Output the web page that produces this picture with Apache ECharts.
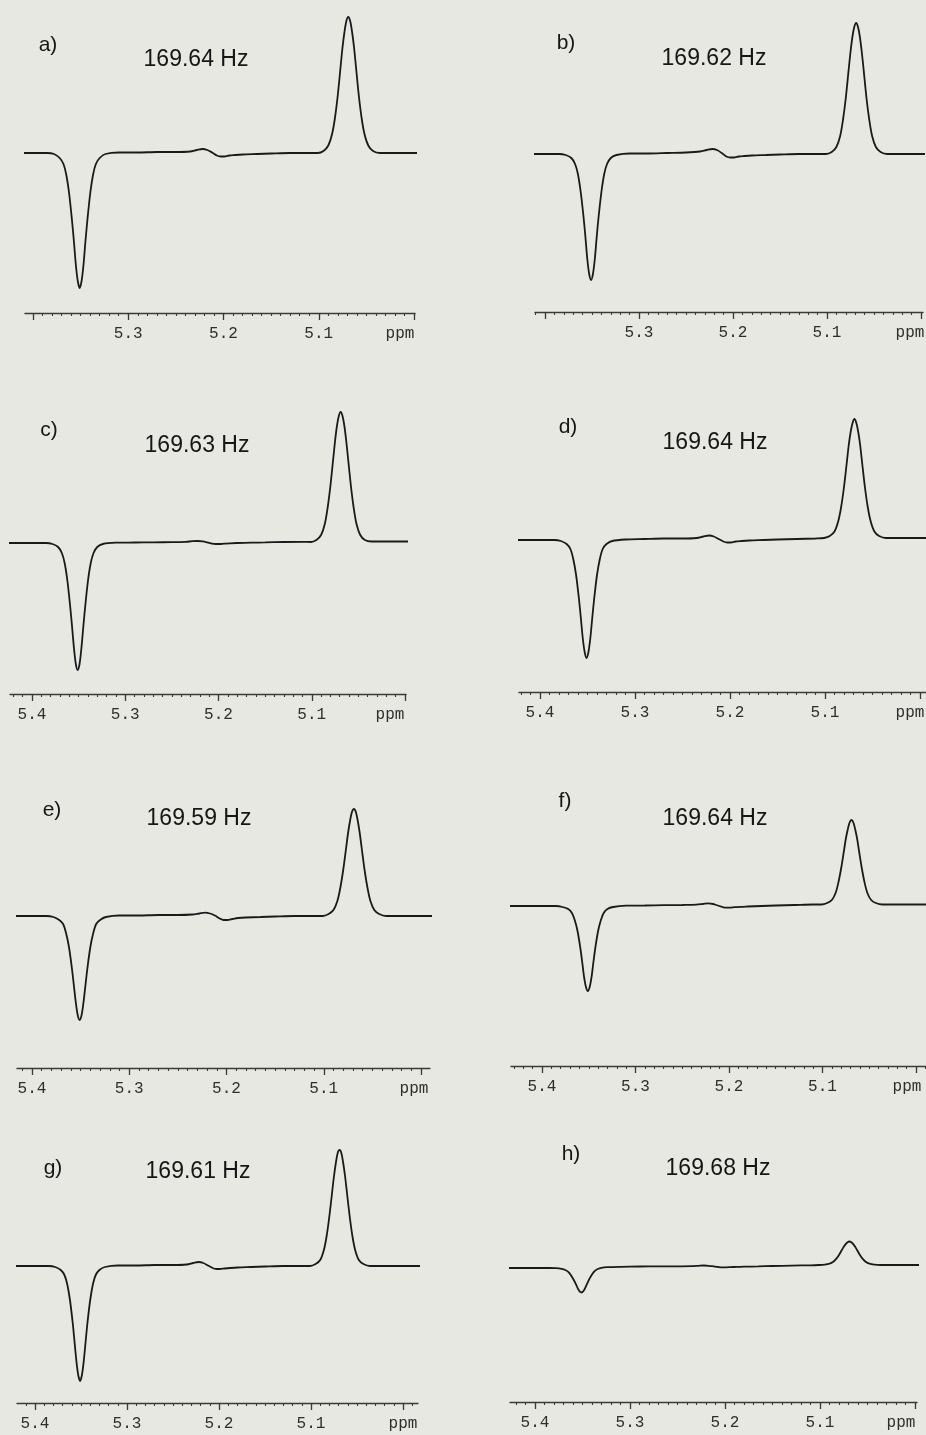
<!DOCTYPE html>
<html>
<head>
<meta charset="utf-8">
<script src="https://cdn.jsdelivr.net/npm/echarts@6/dist/echarts.min.js"></script>
<style>
html,body{margin:0;padding:0;background:#e7e8e2;}
#chart{width:926px;height:1435px;}
</style>
</head>
<body>
<div id="chart"></div>
<script>
// Shared chemical-shift grid (ppm), descending
const PPM = [5.44, 5.41, 5.395, 5.385,
  5.378, 5.372, 5.368, 5.365, 5.362, 5.359, 5.357, 5.355, 5.353, 5.351, 5.349, 5.347, 5.345, 5.343, 5.340, 5.337, 5.334, 5.330, 5.324,
  5.31, 5.29, 5.27, 5.25, 5.235, 5.228, 5.222, 5.217, 5.212, 5.207, 5.203, 5.199, 5.194, 5.188, 5.18, 5.165, 5.15, 5.13, 5.11,
  5.101, 5.095, 5.090, 5.086, 5.083, 5.080, 5.077, 5.075, 5.073, 5.071, 5.069, 5.067, 5.065, 5.063, 5.061, 5.058, 5.055, 5.052, 5.048, 5.043, 5.036,
  5.02, 5.00, 4.98];

// Intensities (arbitrary units)
const SPEC_A = [0,0,0,0,
  -1,-5,-11,-22,-41,-68,-89,-112,-128,-135,-128,-112,-89,-68,-41,-22,-11,-5,-1,
  0.5,0.5,1,1,1.5,3,4,3,0.5,-2.5,-3.5,-3.5,-2.5,-2,-1.5,-1,-0.5,0,0,
  0,2,7.5,19,35,58,87,106,121,132,136,132,121,106,87,58,35,19,7.5,2,0,
  0,0,0];
const SPEC_B = [0,0,0,0,
  -1,-4,-10,-20,-38,-63,-83,-105,-120,-126,-120,-105,-83,-63,-38,-20,-10,-4,-1,
  0.5,0.5,1,1.5,2.5,4,5,4,1,-2.5,-3.5,-3.5,-2.5,-2,-1.5,-1,-0.5,0,0,
  0,2,7,18,34,56,84,102,117,127,131,127,117,102,84,56,34,18,7,2,0,
  0,0,0];
const SPEC_C = [0,0,0,0,
  -1,-4,-10,-20,-38,-64,-84,-105,-121,-127,-121,-105,-84,-64,-38,-20,-10,-4,-1,
  0.3,0.5,0.7,0.8,1.2,1.8,2,1.6,0.6,-0.6,-1,-1,-0.6,-0.3,0,0.3,0.6,1,1.2,
  1,3,8,19,35,57,84,102,117,127,131,127,117,102,84,57,35,19,8,3,1.5,
  1.5,1.5,1.5];
const SPEC_D = [0,0,0,0,
  -1,-4,-9,-19,-35,-59,-78,-98,-112,-118,-112,-98,-78,-59,-35,-19,-9,-4,-1,
  0.5,1,1.5,1.5,2,3.5,4.5,3.5,1,-1.5,-2.5,-2.5,-1.5,-1,-0.5,0,0.5,1,1.5,
  2,4,8.5,19,33,53,78,95,108,117,121,117,108,95,78,53,33,19,8.5,4,2,
  2,2,2];
const SPEC_E = [0,0,0,0,
  -1,-4,-8,-17,-31,-52,-69,-86,-99,-104,-99,-86,-69,-52,-31,-17,-8,-4,-1,
  0.5,0.5,1,1,1.5,2.5,3.3,2.5,0.5,-2.5,-4,-4,-3,-2,-1.5,-1,-0.5,0,0,
  0,2,6,15,28,46,68,83,95,104,107,104,95,83,68,46,28,15,6,2,0,
  0,0,0];
const SPEC_F = [0,0,0,0,
  -1,-3,-7,-14,-25,-42,-56,-71,-81,-85,-81,-71,-56,-42,-25,-14,-7,-3,-1,
  0.3,0.5,0.8,1,1.3,2,2.7,2,0.5,-1,-1.7,-1.7,-1.2,-0.8,-0.5,0,0.5,1,1.5,
  1.5,3,6,13,23.5,38,55.5,67.5,76.5,83.5,86,83.5,76.5,67.5,55.5,38,23.5,13,6,3,1.5,
  1.5,1.5,1.5];
const SPEC_G = [0,0,0,0,
  -1,-4,-9,-18,-34,-57,-76,-95,-109,-115,-109,-95,-76,-57,-34,-18,-9,-4,-1,
  0.5,0.5,1,1,1.5,3,4,3,0.5,-2,-3,-3,-2.5,-2,-1.5,-1,-0.5,0,0,
  0,2,6,16,30,50,74,90,103,113,116,113,103,90,74,50,30,16,6,2,0,
  0,0,0];
const SPEC_H = [0,0,0,0,
  -0.2,-0.9,-2,-3.9,-7.4,-12.3,-16.2,-20.3,-23.3,-24.5,-23,-19.6,-15.4,-11.3,-6.4,-2.9,-1,0.2,0.8,
  1.2,1.5,1.6,1.7,1.8,2.2,2.5,2.2,1.6,1,0.7,0.7,0.9,1.1,1.3,1.6,2,2.4,2.7,
  3,3.4,4.3,6.3,9.1,13.1,18,21.3,23.9,25.8,26.5,25.8,23.9,21.3,18,13.1,9.1,6.3,4.3,3.4,3,
  3,3,3];

const PANEL_LETTERS = ['a)','b)','c)','d)','e)','f)','g)','h)'];
const PANEL_HZ = ['169.64 Hz','169.62 Hz','169.63 Hz','169.64 Hz','169.59 Hz','169.64 Hz','169.61 Hz','169.68 Hz'];
const TICK_VALUES = [5.4, 5.3, 5.2, 5.1, 5.0];
const TICK_LABELS = ['5.4', '5.3', '5.2', '5.1', 'ppm'];

const SPECS = [SPEC_A, SPEC_B, SPEC_C, SPEC_D, SPEC_E, SPEC_F, SPEC_G, SPEC_H];

// Layout (pixels): axis extents, tick anchors, baseline, label positions
const LAYOUT = [
  {left:25,  right:415, x54:33,  x50:414, axisY:313,  base:153,  lx:48,  ly:45,   hx:196, hy:60,   ppmShift:14, show54:false},
  {left:535, right:923, x54:545, x50:921, axisY:312,  base:154,  lx:566, ly:43,   hx:714, hy:59,   ppmShift:11, show54:false},
  {left:10,  right:406, x54:32,  x50:405, axisY:694,  base:543,  lx:49,  ly:430,  hx:197, hy:446,  ppmShift:15, show54:true},
  {left:519, right:935, x54:540, x50:920, axisY:692,  base:540,  lx:568, ly:427,  hx:715, hy:443,  ppmShift:10, show54:true},
  {left:17,  right:430, x54:32,  x50:421, axisY:1068, base:916,  lx:52,  ly:810,  hx:199, hy:819,  ppmShift:7,  show54:true},
  {left:511, right:935, x54:542, x50:916, axisY:1066, base:906,  lx:565, ly:801,  hx:715, hy:819,  ppmShift:9,  show54:true},
  {left:17,  right:418, x54:35,  x50:403, axisY:1403, base:1266, lx:53,  ly:1168, hx:198, hy:1172, ppmShift:0,  show54:true},
  {left:510, right:917, x54:535, x50:915, axisY:1402, base:1268, lx:571, ly:1154, hx:718, hy:1169, ppmShift:14, show54:true}
];

const AXIS_COLOR = '#3a3a3a';
const grids = [], xAxes = [], yAxes = [], series = [], graphics = [];

LAYOUT.forEach((L, i) => {
  const ppx = (L.x50 - L.x54) / 0.4;
  const max = 5.4 + (L.x54 - L.left) / ppx;
  const min = 5.0 - (L.right - L.x50) / ppx;
  const top = L.base - 150;
  grids.push({left: L.left, top: top, width: L.right - L.left, height: L.axisY - top,
              containLabel: false, outerBoundsMode: 'none'});
  const minor = [];
  for (let k = 495; k <= 545; k++) { const v = k / 100; if (v >= min - 1e-9 && v <= max + 1e-9) minor.push(v); }
  const labelVals = TICK_VALUES.filter(v => L.show54 || Math.abs(v - 5.4) > 1e-6);
  xAxes.push({
    type: 'value', gridIndex: i, position: 'bottom', inverse: true, min: min, max: max,
    axisLine: {show: true, onZero: false, lineStyle: {color: AXIS_COLOR, width: 1.4}},
    axisTick: {show: true, inside: false, length: 7, customValues: TICK_VALUES, lineStyle: {color: AXIS_COLOR, width: 1.3}},
    axisLabel: {
      show: true, customValues: labelVals, margin: 13, hideOverlap: false,
      fontFamily: '"Liberation Mono", "DejaVu Sans Mono", monospace', fontSize: 16, color: '#2e2e2e',
      formatter: function (v) {
        const k = TICK_VALUES.findIndex(t => Math.abs(t - v) < 1e-6);
        const s = k >= 0 ? TICK_LABELS[k] : '';
        return s === 'ppm' ? '{p|ppm}' : s;
      },
      rich: {p: {fontFamily: '"Liberation Mono", "DejaVu Sans Mono", monospace', fontSize: 16, color: '#2e2e2e',
                 padding: [0, 2 * L.ppmShift, 0, 0]}}
    },
    splitLine: {show: false}
  });
  xAxes.push({
    type: 'value', gridIndex: i, position: 'bottom', inverse: true, min: min, max: max,
    axisLine: {show: false, onZero: false},
    axisTick: {show: true, inside: false, length: 3, customValues: minor, lineStyle: {color: AXIS_COLOR, width: 1.1}},
    axisLabel: {show: false},
    splitLine: {show: false}
  });
  yAxes.push({type: 'value', gridIndex: i, min: -(L.axisY - L.base), max: L.base - top, show: false,
              splitLine: {show: false}});
  series.push({
    type: 'line', xAxisIndex: 2 * i, yAxisIndex: i,
    data: PPM.map((x, k) => [x, SPECS[i][k]]),
    showSymbol: false, smooth: 0.3, clip: true, silent: true,
    lineStyle: {color: '#1a1a1a', width: 1.8}
  });
  graphics.push({type: 'text', x: L.lx, y: L.ly, silent: true,
    style: {text: PANEL_LETTERS[i], font: '21px "Liberation Sans", Arial, sans-serif', fill: '#161616',
            align: 'center', verticalAlign: 'middle'}});
  graphics.push({type: 'text', x: L.hx, y: L.hy, silent: true,
    style: {text: PANEL_HZ[i], font: '23px "Liberation Sans", Arial, sans-serif', fill: '#161616',
            align: 'center', verticalAlign: 'middle'}});
});

const chart = echarts.init(document.getElementById('chart'), null, {renderer: 'canvas'});
chart.setOption({
  backgroundColor: '#e7e8e2',
  animation: false,
  grid: grids,
  xAxis: xAxes,
  yAxis: yAxes,
  series: series,
  graphic: graphics
});
</script>
</body>
</html>
